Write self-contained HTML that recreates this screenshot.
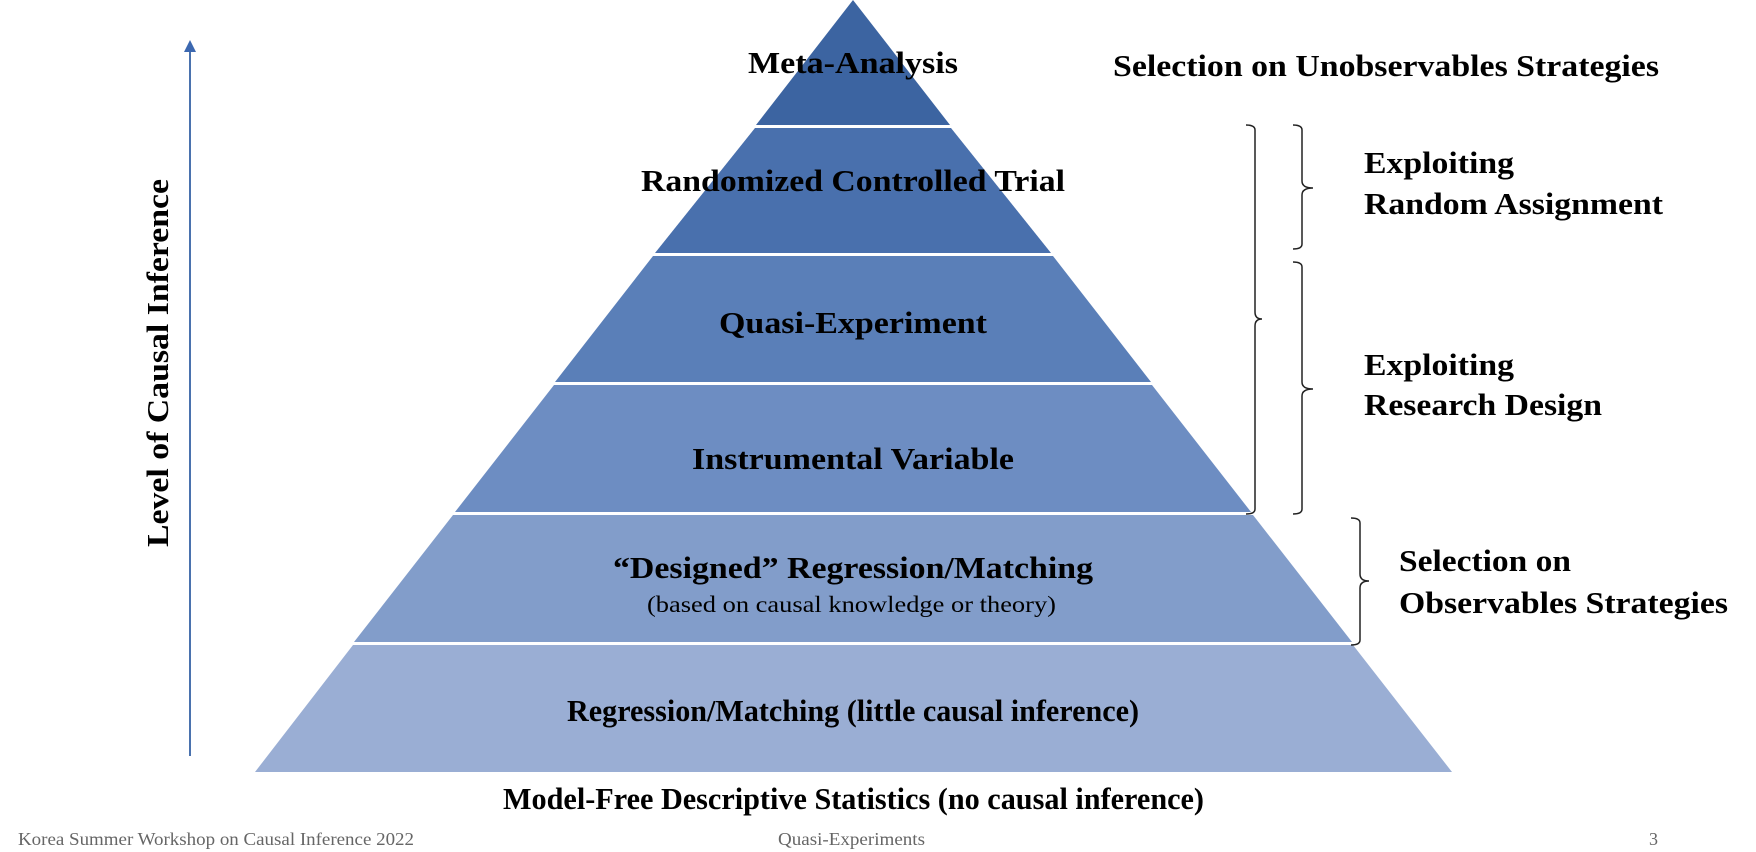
<!DOCTYPE html>
<html><head><meta charset="utf-8"><style>
html,body{margin:0;padding:0;background:#fff;}
svg{display:block;}
.b{font-family:"Liberation Serif",serif;font-weight:bold;font-size:31px;fill:#000;}
.f{font-family:"Liberation Serif",serif;font-size:18px;fill:#666;}
</style></head><body>
<svg width="1756" height="852" viewBox="0 0 1756 852" xmlns="http://www.w3.org/2000/svg">
<rect width="1756" height="852" fill="#fff"/>
<polygon points="853,0 950,125 756,125" fill="#3c64a1"/>
<polygon points="951,128 1051,253 655,253 755,128" fill="#4970ad"/>
<polygon points="1053,256 1151,382 555,382 653,256" fill="#5a7fb8"/>
<polygon points="1152,385 1251,512 455,512 554,385" fill="#6d8dc2"/>
<polygon points="1253,515 1352,642 354,642 453,515" fill="#829dca"/>
<polygon points="1353,645 1452,772 255,772 353,645" fill="#9aaed4"/>
<g lengthAdjust="spacingAndGlyphs">
<text class="b" x="748" y="73" textLength="210" lengthAdjust="spacingAndGlyphs">Meta-Analysis</text>
<text class="b" x="641" y="191" textLength="424" lengthAdjust="spacingAndGlyphs">Randomized Controlled Trial</text>
<text class="b" x="719" y="333" textLength="268" lengthAdjust="spacingAndGlyphs">Quasi-Experiment</text>
<text class="b" x="692" y="469" textLength="322" lengthAdjust="spacingAndGlyphs">Instrumental Variable</text>
<text class="b" x="613" y="578" textLength="480" lengthAdjust="spacingAndGlyphs">“Designed” Regression/Matching</text>
<text x="647" y="612" textLength="409" lengthAdjust="spacingAndGlyphs" style="font-family:'Liberation Serif',serif;font-size:23px">(based on causal knowledge or theory)</text>
<text class="b" x="567" y="721" textLength="572" lengthAdjust="spacingAndGlyphs">Regression/Matching (little causal inference)</text>
<text class="b" x="503" y="809" textLength="701" lengthAdjust="spacingAndGlyphs">Model-Free Descriptive Statistics (no causal inference)</text>
</g>
<line x1="190" y1="52" x2="190" y2="756" stroke="#4a72ae" stroke-width="2"/>
<polygon points="190,40 184,52 196,52" fill="#3c68b0"/>
<text class="b" transform="translate(168,547) rotate(-90)" textLength="368" lengthAdjust="spacingAndGlyphs">Level of Causal Inference</text>
<g fill="none" stroke="#222" stroke-width="1.5">
<path d="M1246,125 Q1255,125 1255,130 L1255,312 Q1255,319 1262,319 Q1255,319 1255,326 L1255,509 Q1255,514 1246,514"/>
<path d="M1293,125 Q1302,125 1302,130 L1302,181 Q1302,188 1313,188 Q1302,188 1302,195 L1302,244 Q1302,249 1293,249"/>
<path d="M1293,262 Q1302,262 1302,267 L1302,382 Q1302,389 1313,389 Q1302,389 1302,396 L1302,509 Q1302,514 1293,514"/>
<path d="M1351,518 Q1360,518 1360,523 L1360,574 Q1360,581 1369,581 Q1360,581 1360,588 L1360,640 Q1360,645 1351,645"/>
</g>
<text class="b" x="1113" y="76" textLength="546" lengthAdjust="spacingAndGlyphs">Selection on Unobservables Strategies</text>
<text class="b" x="1364" y="173" textLength="150" lengthAdjust="spacingAndGlyphs">Exploiting</text>
<text class="b" x="1364" y="214" textLength="299" lengthAdjust="spacingAndGlyphs">Random Assignment</text>
<text class="b" x="1364" y="375" textLength="150" lengthAdjust="spacingAndGlyphs">Exploiting</text>
<text class="b" x="1364" y="415" textLength="238" lengthAdjust="spacingAndGlyphs">Research Design</text>
<text class="b" x="1399" y="571" textLength="172" lengthAdjust="spacingAndGlyphs">Selection on</text>
<text class="b" x="1399" y="613" textLength="329" lengthAdjust="spacingAndGlyphs">Observables Strategies</text>
<text class="f" x="18" y="845" textLength="396" lengthAdjust="spacingAndGlyphs">Korea Summer Workshop on Causal Inference 2022</text>
<text class="f" x="778" y="845" textLength="147" lengthAdjust="spacingAndGlyphs">Quasi-Experiments</text>
<text class="f" x="1649" y="845">3</text>
</svg>
</body></html>
